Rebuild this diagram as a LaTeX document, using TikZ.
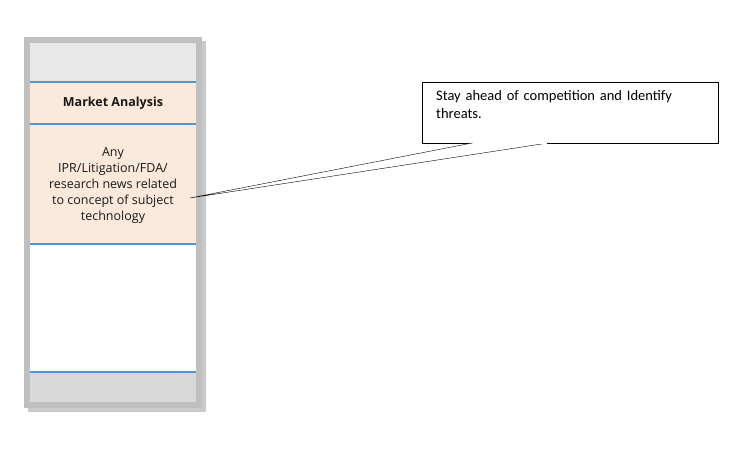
\documentclass[tikz,border=0pt]{standalone}
\usepackage{fontspec}
\setmainfont{Carlito}
\newfontfamily\panelfont{Open Sans}
\definecolor{peach}{RGB}{251,233,220}
\definecolor{bline}{RGB}{80,150,210}
\begin{document}
\begin{tikzpicture}[x=1pt,y=-1pt,
  blueline/.style={draw=bline,line width=1.2pt},
  ptext/.style={font=\panelfont\fontsize{12.5}{16}\selectfont,align=center,text=black!90}]
\useasboundingbox (0,0) rectangle (748,459);
% shadow
\fill[black!35,opacity=0.6] (28,41) rectangle (206,412);
\fill[black!25] (24,37) rectangle (202,408);
\fill[black!9] (30,43) rectangle (196,82);
\fill[peach] (30,82) rectangle (196,244);
\fill[white] (30,244) rectangle (196,372);
\fill[black!15] (30,372) rectangle (196,402);
\draw[blueline] (30,82) -- (196,82);
\draw[blueline] (30,124) -- (196,124);
\draw[blueline] (30,244) -- (196,244);
\draw[blueline] (30,372) -- (196,372);
\node[ptext,font=\panelfont\bfseries\fontsize{12.5}{15}\selectfont] (ma) at (113,103) {Market Analysis};
\node[ptext] (desc) at (113,186) {Any\\IPR/Litigation/FDA/\\research news related\\to concept of subject\\technology};
% callout
\coordinate (tip) at (190,198);
\node[draw,fill=white,minimum width=296pt,minimum height=61pt,anchor=north west,inner sep=0pt] (call) at (422,82) {};
\draw[fill=white] (tip) -- (472,143) -- (548,143) -- cycle;
\draw[white,line width=1.2pt] (473,143) -- (547,143);
\node[anchor=north west,align=left,font=\fontsize{14.5}{18}\selectfont,text width=285pt,inner sep=0pt] (ct) at (436,90) {Stay ahead of competition and Identify\\threats.};
\end{tikzpicture}
\end{document}
